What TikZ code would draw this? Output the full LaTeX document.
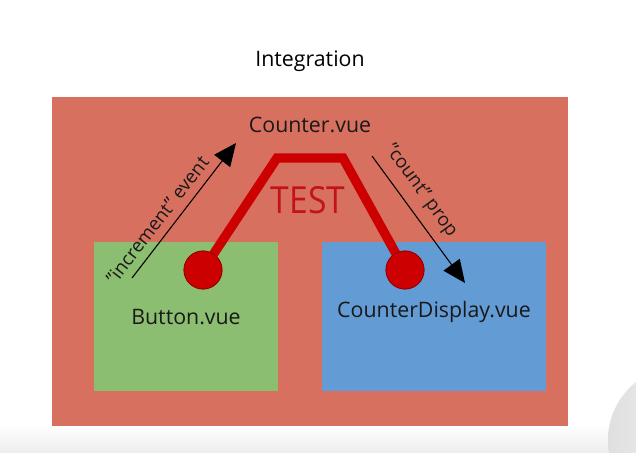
\documentclass[tikz,border=0pt]{standalone}
\usepackage{fontspec}
\setmainfont{Open Sans}
\usetikzlibrary{arrows.meta}
\definecolor{bgred}{RGB}{216,112,96}
\definecolor{boxgreen}{RGB}{139,190,112}
\definecolor{boxblue}{RGB}{99,155,213}
\definecolor{testred}{RGB}{204,0,0}
\definecolor{testtext}{RGB}{196,18,28}
\definecolor{testdark}{RGB}{150,0,0}
\definecolor{txt}{RGB}{25,25,25}
\tikzset{
  panel/.style={draw=none, inner sep=0pt, text=txt, font=\fontsize{16}{18}\selectfont},
  lbl/.style={text=txt, font=\fontsize{14}{16}\selectfont, inner sep=0pt},
  flow/.style={draw=black, line width=0.8pt, -{Triangle[length=17pt,width=15pt]}},
  pin/.style={circle, fill=testred, draw=testdark, line width=0.6pt, minimum size=28.5pt, inner sep=0pt},
  testline/.style={draw=testred, line width=7pt, line join=miter}
}
\begin{document}
\begin{tikzpicture}[x=0.75pt,y=-0.75pt]
\useasboundingbox (0,0) rectangle (636,453);
\fill[white] (0,0) rectangle (636,453);
\shade[top color=white, bottom color=gray!14] (0,425) rectangle (636,453);
\shade[left color=gray!25, right color=white] (682,440) circle (74);
\node[font=\fontsize{16}{18}\selectfont, text=black] (title) at (310,61) {Integration};
\node[panel, fill=bgred, minimum width=387pt, minimum height=246.75pt] (outer) at (310,261.5) {};
\node[panel, fill=boxgreen, minimum width=138pt, minimum height=111.75pt] (button) at (186,316.5) {};
\node[panel, fill=boxblue, minimum width=168pt, minimum height=111.75pt] (display) at (434,316.5) {};
\node[panel] (buttontxt) at (186,317) {Button.vue};
\node[panel] (displaytxt) at (434,312) {CounterDisplay.vue};
\node[panel] (counter) at (310,125) {Counter.vue};
\node[text=testtext, font=\fontsize{28}{30}\selectfont, xscale=0.9, inner sep=0pt] (test) at (308,200) {TEST};
\node[pin] (pinL) at (203,270) {};
\node[pin] (pinR) at (405,270) {};
\coordinate (cl) at (277,158);
\coordinate (cr) at (343,158);
\draw[testline] (pinL.center) -- (cl) -- (cr) -- (pinR.center);
\node[pin] at (pinL) {};
\node[pin] at (pinR) {};
\coordinate (a1s) at (132,278);
\coordinate (a1e) at (236,143);
\coordinate (a2s) at (372,156);
\coordinate (a2e) at (465,283);
\draw[flow] (a1s) -- node[lbl, sloped, pos=0.36, above=6pt] (inc) {"increment" event} (a1e);
\draw[flow] (a2s) -- node[lbl, sloped, pos=0.36, above=7pt] (cnt) {"count" prop} (a2e);
\end{tikzpicture}
\end{document}
